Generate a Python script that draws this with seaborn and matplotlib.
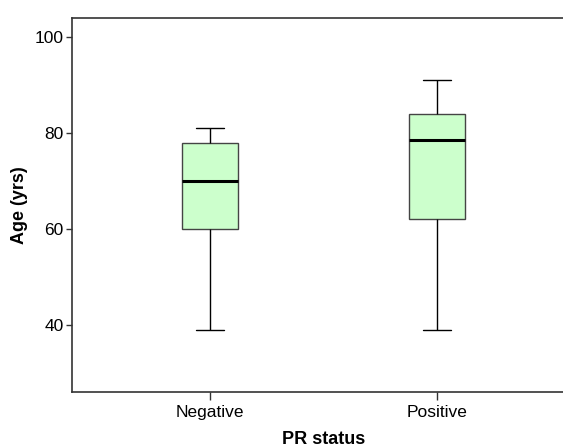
import matplotlib
matplotlib.use("Agg")
import matplotlib.pyplot as plt
import seaborn as sns
import pandas as pd

# Пятичисловые сводки (min, Q1, медиана, Q3, max)
groups = ["Negative", "Positive"]
negative_ages = [39, 60, 70, 78, 81]
positive_ages = [39, 62, 78.5, 84, 91]
y_ticks = [40, 60, 80, 100]

df = pd.DataFrame({
    "PR status": ["Negative"] * len(negative_ages) + ["Positive"] * len(positive_ages),
    "Age (yrs)": negative_ages + positive_ages,
})

sns.set_style("white")
plt.rcParams["font.family"] = ["Liberation Sans", "DejaVu Sans"]
plt.rcParams["text.color"] = "black"
plt.rcParams["axes.labelcolor"] = "black"
plt.rcParams["xtick.color"] = "black"
plt.rcParams["ytick.color"] = "black"

fig = plt.figure(figsize=(5.63, 4.48), dpi=100)
ax = fig.add_axes([72 / 563, 56 / 448, (575 - 72) / 563, (392 - 18) / 448])

sns.boxplot(
    data=df, x="PR status", y="Age (yrs)", order=groups,
    whis=(0, 100), width=0.247, color="#ccffcc", ax=ax,
    boxprops={"facecolor": "#ccffcc", "edgecolor": "#444444", "linewidth": 1.0},
    medianprops={"color": "black", "linewidth": 2.2},
    whiskerprops={"color": "black", "linewidth": 1.0},
    capprops={"color": "black", "linewidth": 1.0},
    capwidths=0.124,
)

ax.set_ylim(26, 104)
ax.set_xlim(-0.608, 1.608)
ax.set_yticks(y_ticks)
ax.set_xlabel("PR status", fontsize=13, fontweight="bold", labelpad=8)
ax.set_ylabel("Age (yrs)", fontsize=13, fontweight="bold", labelpad=5)
ax.tick_params(axis="both", labelsize=12.5, direction="out", length=4, width=1,
               color="#333333", labelcolor="black", left=True, bottom=True, pad=2)
ax.tick_params(axis="x", length=6, pad=3)

for side in ["left", "bottom", "top"]:
    ax.spines[side].set_color("#333333")
    ax.spines[side].set_linewidth(1.2)
ax.spines["right"].set_visible(False)

fig.savefig("out.png", dpi=100)
